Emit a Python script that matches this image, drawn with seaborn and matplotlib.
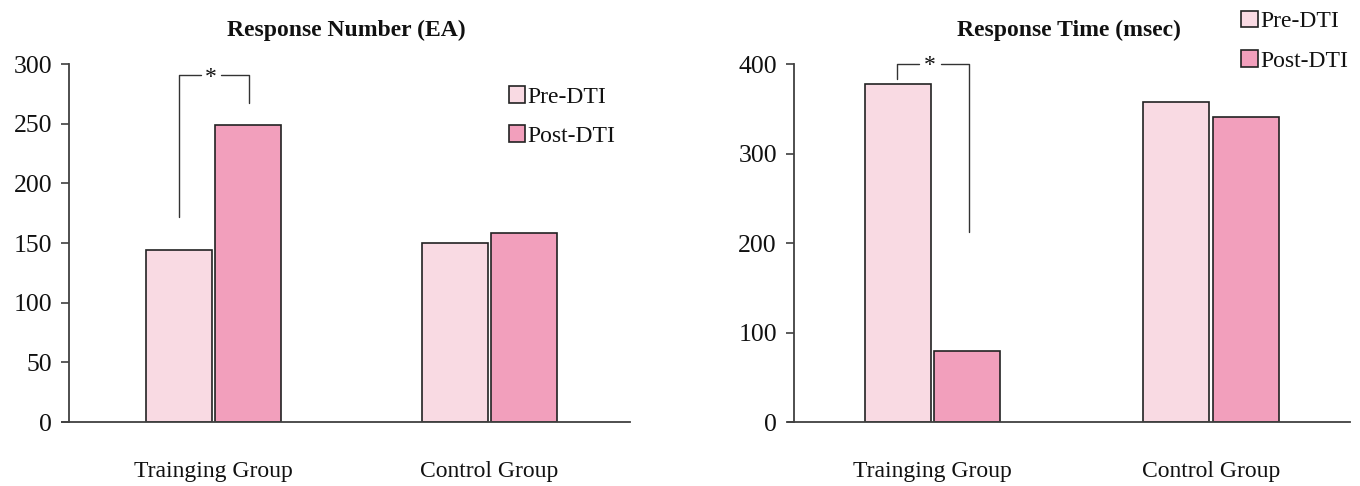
import matplotlib
matplotlib.use("Agg")
import matplotlib.pyplot as plt
import seaborn as sns
import pandas as pd

groups = ["Trainging Group", "Control Group"]
phases = ["Pre-DTI", "Post-DTI"]
resp_number_pre = [144, 150]
resp_number_post = [249, 158]
resp_time_pre = [378, 357]
resp_time_post = [79, 341]
titles = ["Response Number (EA)", "Response Time (msec)"]
colors = {"Pre-DTI": "#F9DAE3", "Post-DTI": "#F29FBC"}

sns.set_theme(style="white")
plt.rcParams["font.family"] = ["Liberation Serif", "DejaVu Serif"]
plt.rcParams["text.color"] = "#111111"
plt.rcParams["xtick.color"] = "#111111"
plt.rcParams["ytick.color"] = "#111111"

def make_df(pre, post):
    rows = []
    for g, v in zip(groups, pre):
        rows.append({"group": g, "phase": "Pre-DTI", "value": v})
    for g, v in zip(groups, post):
        rows.append({"group": g, "phase": "Post-DTI", "value": v})
    return pd.DataFrame(rows)

fig = plt.figure(figsize=(13.6, 4.86), dpi=100)
ax1 = fig.add_axes([62/1360, 1-422/486, (630-62)/1360, (422-64)/486])
ax2 = fig.add_axes([788/1360, 1-422/486, (1350-788)/1360, (422-64)/486])

axis_col = "#404040"
for ax, pre, post, title, ymax, step in [
    (ax1, resp_number_pre, resp_number_post, titles[0], 300, 50),
    (ax2, resp_time_pre, resp_time_post, titles[1], 400, 100),
]:
    df = make_df(pre, post)
    sns.barplot(data=df, x="group", y="value", hue="phase", hue_order=phases,
                order=groups, palette=colors, width=0.5, gap=0.05,
                edgecolor="#222222", linewidth=1.2, saturation=1, ax=ax)
    ax.set_ylim(0, ymax)
    ax.set_yticks(range(0, ymax + 1, step))
    ax.set_xlabel("")
    ax.set_ylabel("")
    ax.set_title(title, fontsize=17, fontweight="bold", pad=20, color="#111111")
    for s in ["top", "right"]:
        ax.spines[s].set_visible(False)
    ax.spines["left"].set_color(axis_col)
    ax.spines["bottom"].set_color(axis_col)
    ax.spines["left"].set_linewidth(1.3)
    ax.spines["bottom"].set_linewidth(1.3)
    ax.tick_params(axis="y", which="both", left=True, length=6, width=1.2,
                   color=axis_col, labelcolor="#111111", labelsize=18.5, pad=6)
    ax.tick_params(axis="x", bottom=False, labelcolor="#111111", labelsize=17, pad=22)
    if ax.get_legend() is not None:
        ax.get_legend().remove()

ax1.set_xlim(-0.55, 1.51)
ax1.spines["left"].set_position(("data", -0.525))
ax2.set_xlim(-0.52, 1.5)
ax2.spines["left"].set_position(("data", -0.5))

h, l = ax1.get_legend_handles_labels()
ax1.legend(h, l, loc="upper left", bbox_to_anchor=(0.77, 0.965), frameon=False,
           fontsize=17, handlelength=0.7, handleheight=0.7, handletextpad=0.1,
           labelspacing=0.75, borderaxespad=0, labelcolor="#111111")
ax2.legend(h, l, loc="upper left", bbox_to_anchor=(0.79, 1.175), frameon=False,
           fontsize=17, handlelength=0.7, handleheight=0.7, handletextpad=0.1,
           labelspacing=0.75, borderaxespad=0, labelcolor="#111111")

lc = "#333333"
# bracket left
ax1.plot([-0.127, -0.127, -0.045], [172, 291, 291], color=lc, lw=1)
ax1.plot([0.025, 0.13, 0.13], [291, 291, 267], color=lc, lw=1)
ax1.text(-0.01, 289, "*", ha="center", va="center", fontsize=17)
# bracket right
ax2.plot([-0.13, -0.13, -0.05], [383, 400, 400], color=lc, lw=1, clip_on=False)
ax2.plot([0.03, 0.13, 0.13], [400, 400, 212], color=lc, lw=1, clip_on=False)
ax2.text(-0.01, 398, "*", ha="center", va="center", fontsize=17)

fig.savefig("out.png", dpi=100)
